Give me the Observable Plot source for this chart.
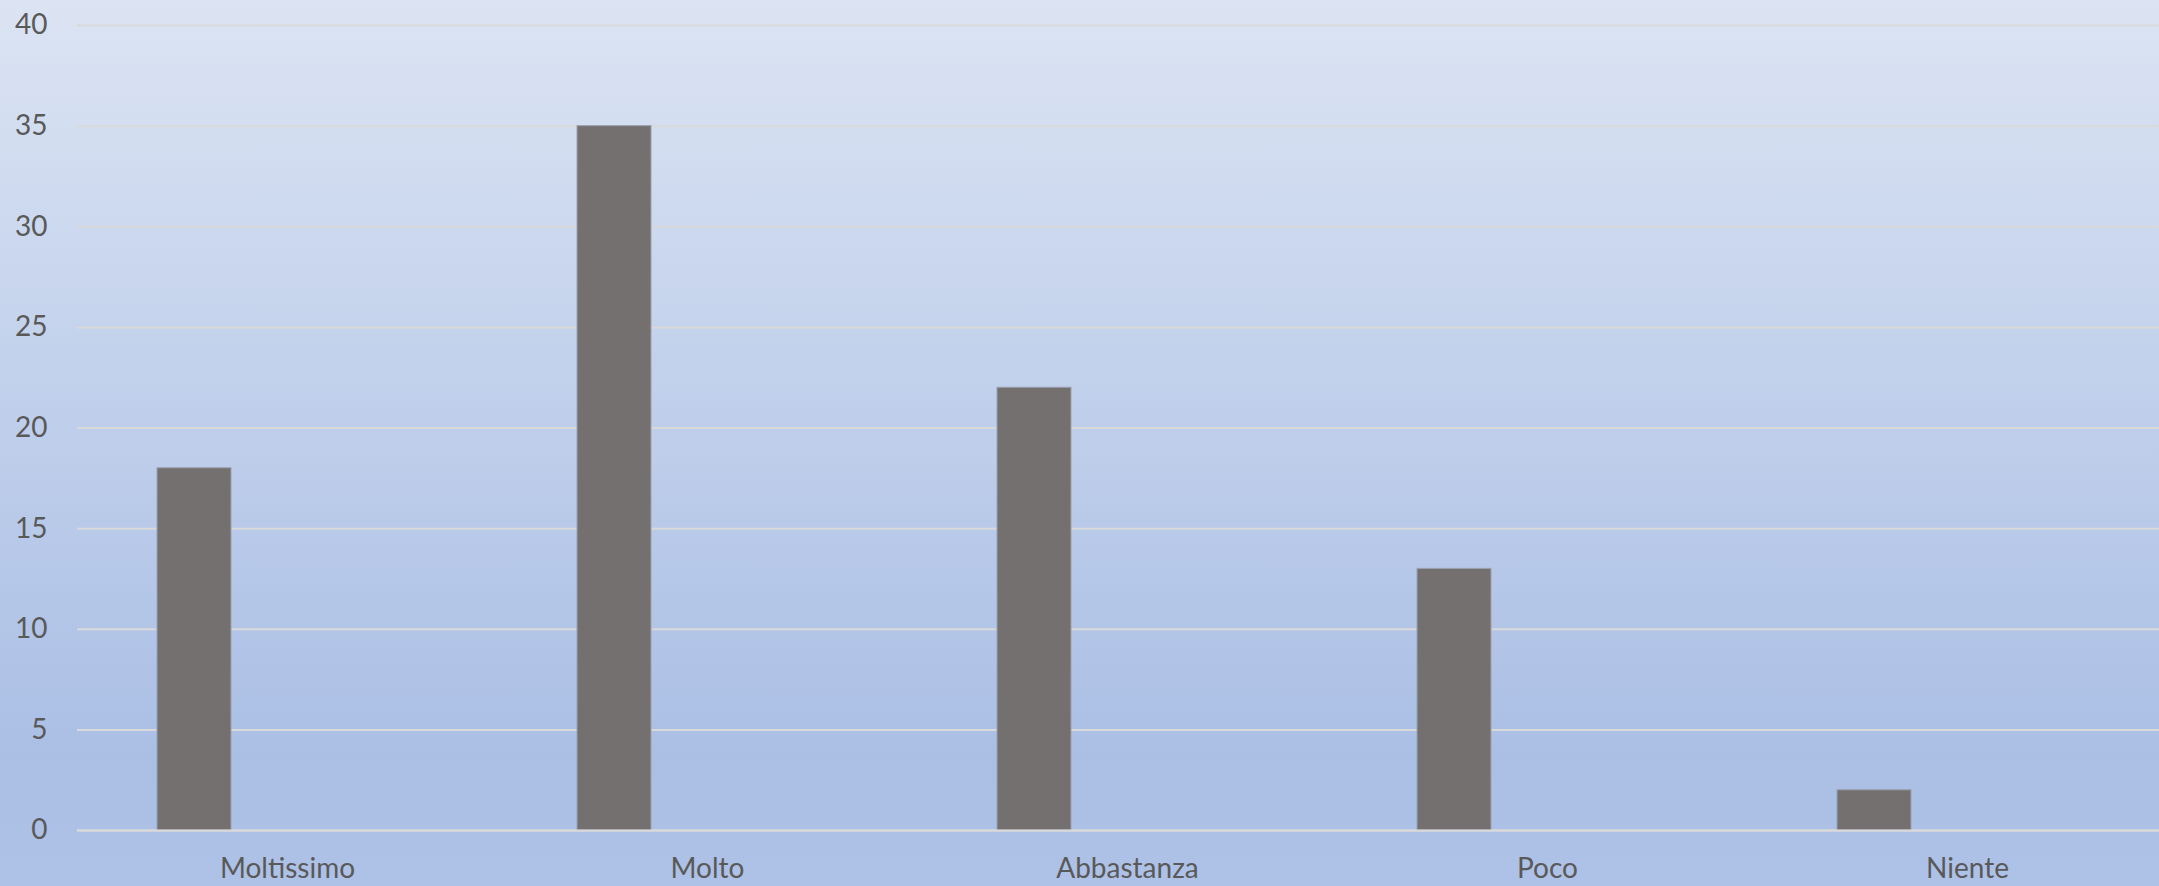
<!DOCTYPE html>
<html>
<head>
<meta charset="utf-8">
<script src="https://cdn.jsdelivr.net/npm/d3@7"></script>
<script src="https://cdn.jsdelivr.net/npm/@observablehq/plot@0.6"></script>
<style>
  html, body { margin: 0; padding: 0; }
  body {
    width: 2159px; height: 886px; overflow: hidden;
    background: linear-gradient(to bottom, #dce4f3 0%, #c3d2ec 40%, #abbfe5 85%, #aec1e6 100%);
  }
  #chart svg { background: transparent; display: block; }
</style>
</head>
<body>
<div id="chart"></div>
<script>
const categories = ["Moltissimo", "Molto", "Abbastanza", "Poco", "Niente"];
const values = [18, 35, 22, 13, 2];
const yTicks = [0, 5, 10, 15, 20, 25, 30, 35, 40];

const data = categories.map((c, i) => ({cat: c, val: values[i]}));

const chart = Plot.plot({
  width: 2159,
  height: 886,
  marginLeft: 77,
  marginRight: 0,
  marginTop: 25,
  marginBottom: 56,
  style: {background: "transparent", fontFamily: "Lato, 'Liberation Sans', sans-serif", fontSize: "28px", color: "#595959"},
  x: {type: "band", domain: categories, range: [77, 2177], padding: 0, label: null, tickSize: 0, tickPadding: 28},
  y: {domain: [0, 40], ticks: yTicks, label: null, tickSize: 0, tickPadding: 30},
  marks: [
    Plot.ruleY(yTicks, {stroke: "#d9d9d9", strokeWidth: 2}),
    Plot.barY(data, {x: "cat", y: "val", fill: "#757070", stroke: "#9aa1b0", strokeWidth: 1, insetLeft: 80, insetRight: 266}),
    Plot.ruleY([0], {stroke: "#d9d9d9", strokeWidth: 2})
  ]
});
document.getElementById("chart").appendChild(chart);
</script>
</body>
</html>
